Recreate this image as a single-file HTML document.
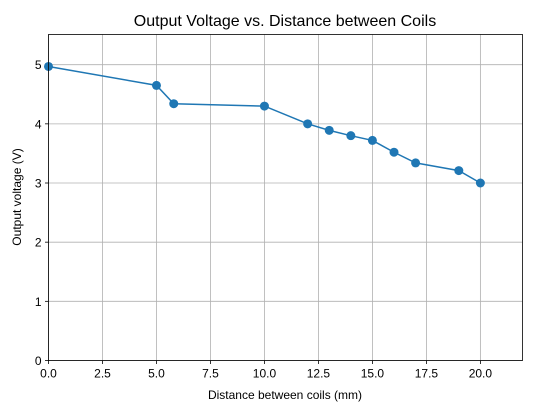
<!DOCTYPE html>
<html><head><meta charset="utf-8"><style>
body{margin:0;background:#fff;}
svg{display:block;font-family:"Liberation Sans","DejaVu Sans",sans-serif;}
</style></head><body>
<svg id="chart" width="543" height="419">
<rect x="0" y="0" width="543" height="419" fill="#fff"/>
<g id="grid"></g>
<g id="ticks"></g>
<g id="series"></g>
<rect x="48.5" y="34.5" width="474" height="326" fill="none" stroke="#000" stroke-width="0.8"/>
<text x="285" y="26" text-anchor="middle" font-size="16">Output Voltage vs. Distance between Coils</text>
<text x="285" y="399" text-anchor="middle" font-size="12">Distance between coils (mm)</text>
<text transform="translate(21,197) rotate(-90)" text-anchor="middle" font-size="12">Output voltage (V)</text>
</svg>
<script>
const distances=[0,5,5.8,10,12,13,14,15,16,17,19,20];
const voltages=[4.97,4.65,4.34,4.3,4.0,3.89,3.8,3.72,3.52,3.34,3.21,3.0];
const xTicks=[0,2.5,5,7.5,10,12.5,15,17.5,20];
const xTickLabels=["0.0","2.5","5.0","7.5","10.0","12.5","15.0","17.5","20.0"];
const yTicks=[0,1,2,3,4,5];
const yTickLabels=["0","1","2","3","4","5"];
const X0=48.5,X1=522.5,Y0=360.5,Y1=34.5,XMAX=21.95,YMAX=5.51;
const sx=v=>X0+v/XMAX*(X1-X0);
const sy=v=>Y0-v/YMAX*(Y0-Y1);
const NS="http://www.w3.org/2000/svg";
const grid=document.getElementById('grid'),ticks=document.getElementById('ticks'),series=document.getElementById('series');
function mk(t,a,p){const e=document.createElementNS(NS,t);for(const k in a)e.setAttribute(k,a[k]);p.appendChild(e);return e;}
xTicks.forEach((v,i)=>{
 const g=mk('line',{x1:sx(v),x2:sx(v),y1:Y1,y2:Y0,stroke:'#b0b0b0','stroke-width':0.8},grid);
 
 
 const t=mk('line',{x1:sx(v),x2:sx(v),y1:Y0,y2:Y0+3.5,stroke:'#000','stroke-width':0.8},ticks);
 
 
 const l=mk('text',{x:sx(v),y:Y0+17,'text-anchor':'middle','font-size':12},ticks);
 l.textContent=xTickLabels[i];
 
 
});
yTicks.forEach((v,i)=>{
 const g=mk('line',{x1:X0,x2:X1,y1:sy(v),y2:sy(v),stroke:'#b0b0b0','stroke-width':0.8},grid);
 
 
 const t=mk('line',{x1:X0-3.5,x2:X0,y1:sy(v),y2:sy(v),stroke:'#000','stroke-width':0.8},ticks);
 
 
 const l=mk('text',{x:X0-7,y:sy(v)+4.5,'text-anchor':'end','font-size':12},ticks);
 l.textContent=yTickLabels[i];
 
 
});
const pl=mk('polyline',{points:distances.map((d,i)=>sx(d)+','+sy(voltages[i])).join(' '),fill:'none',stroke:'#1f77b4','stroke-width':1.5},series);


distances.forEach((d,i)=>{
 const c=mk('circle',{cx:sx(d),cy:sy(voltages[i]),r:4.5,fill:'#1f77b4'},series);
 
 
});
</script>
</body></html>
